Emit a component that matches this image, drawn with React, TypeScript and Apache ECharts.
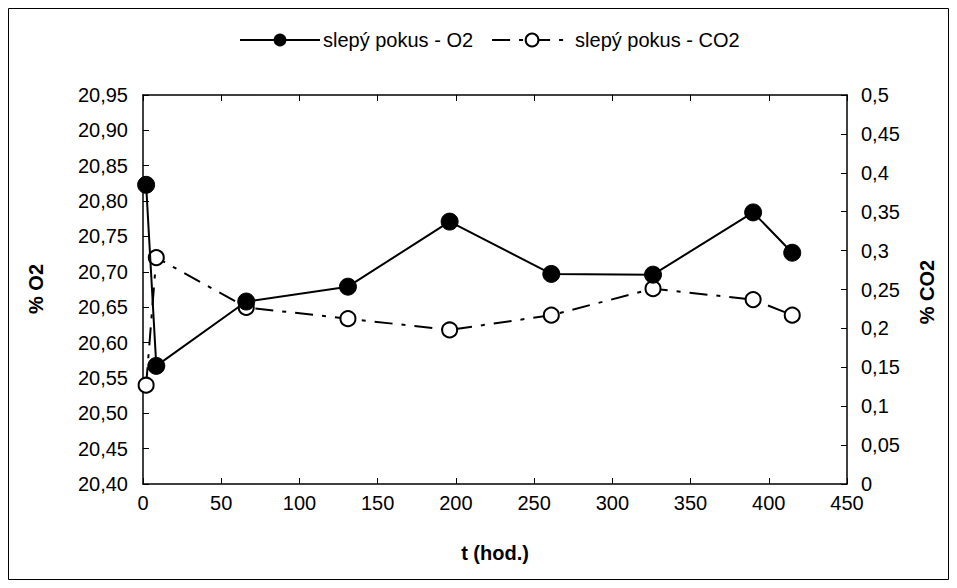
import React, { useEffect, useRef } from "react";
import * as echarts from "echarts";

const times = [2, 8.5, 66, 131, 196, 261, 326, 390, 415];
const o2Values = [20.823, 20.567, 20.658, 20.679, 20.771, 20.697, 20.696, 20.784, 20.727];
const co2Values = [0.127, 0.291, 0.227, 0.2125, 0.198, 0.217, 0.251, 0.237, 0.217];
const o2Name = "slepý pokus - O2";
const co2Name = "slepý pokus - CO2";
const xTitle = "t (hod.)";
const leftTitle = "% O2";
const rightTitle = "% CO2";

const FONT = "'Liberation Sans', Arial, sans-serif";

export default function App() {
  const ref = useRef<HTMLDivElement>(null);
  useEffect(() => {
    if (!ref.current) return;
    const chart = echarts.init(ref.current, undefined, { renderer: "svg" });
    const axisLabel = { color: "#000", fontSize: 20, fontFamily: FONT };
    const tick = { show: true, inside: true, length: 6, lineStyle: { color: "#000", width: 1 } };
    const line = { show: true, onZero: false, lineStyle: { color: "#000", width: 1.5 } };
    chart.setOption({
      animation: false,
      backgroundColor: "#fff",
      textStyle: { fontFamily: FONT, color: "#000" },
      legend: {
        top: 17,
        left: 226,
        itemWidth: 80,
        itemHeight: 16,
        itemGap: 18,
        textStyle: { fontSize: 20, color: "#000", fontFamily: FONT, padding: [0, 0, 0, -2] },
        data: [o2Name, co2Name],
      },
      grid: { left: 135, top: 87, right: 102, bottom: 96, show: false },
      xAxis: [
        {
          type: "value",
          min: 0,
          max: 450,
          interval: 50,
          position: "bottom",
          axisLine: line,
          axisTick: tick,
          splitLine: { show: false },
          axisLabel: { ...axisLabel, margin: 9 },
        },
        {
          type: "value",
          min: 0,
          max: 450,
          interval: 50,
          position: "top",
          axisLine: line,
          axisTick: tick,
          splitLine: { show: false },
          axisLabel: { show: false },
        },
      ],
      yAxis: [
        {
          type: "value",
          min: 20.4,
          max: 20.95,
          interval: 0.05,
          position: "left",
          axisLine: line,
          axisTick: tick,
          splitLine: { show: false },
          axisLabel: {
            ...axisLabel,
            margin: 15,
            formatter: (v: number) => v.toFixed(2).replace(".", ","),
          },
        },
        {
          type: "value",
          min: 0,
          max: 0.5,
          interval: 0.05,
          position: "right",
          axisLine: line,
          axisTick: tick,
          splitLine: { show: false },
          axisLabel: {
            ...axisLabel,
            margin: 14,
            formatter: (v: number) => String(+v.toFixed(2)).replace(".", ","),
          },
        },
      ],
      graphic: [
        {
          type: "rect",
          shape: { x: 0.5, y: 0.5, width: 940, height: 571 },
          style: { fill: "none", stroke: "#000", lineWidth: 1 },
          silent: true,
        },
        {
          type: "text",
          x: 487,
          y: 545,
          style: { text: xTitle, fontSize: 20, fontWeight: "bold", fontFamily: FONT, fill: "#000", align: "center", verticalAlign: "middle" },
        },
        {
          type: "text",
          x: 28,
          y: 281,
          rotation: Math.PI / 2,
          style: { text: leftTitle, fontSize: 20, fontWeight: "bold", fontFamily: FONT, fill: "#000", align: "center", verticalAlign: "middle" },
        },
        {
          type: "text",
          x: 919,
          y: 284,
          rotation: Math.PI / 2,
          style: { text: rightTitle, fontSize: 20, fontWeight: "bold", fontFamily: FONT, fill: "#000", align: "center", verticalAlign: "middle" },
        },
      ],
      series: [
        {
          name: o2Name,
          type: "line",
          yAxisIndex: 0,
          z: 4,
          data: times.map((t, i) => [t, o2Values[i]]),
          symbol: "circle",
          symbolSize: 17,
          itemStyle: { color: "#000", borderColor: "#000" },
          lineStyle: { color: "#000", width: 2 },
        },
        {
          name: co2Name,
          type: "line",
          yAxisIndex: 1,
          z: 3,
          data: times.map((t, i) => [t, co2Values[i]]),
          symbol: "circle",
          symbolSize: 15,
          itemStyle: { color: "#fff", borderColor: "#000", borderWidth: 2 },
          lineStyle: { color: "#000", width: 2, type: [18, 9, 4, 9] },
        },
      ],
    });
    return () => chart.dispose();
  }, []);
  return <div ref={ref} style={{ width: 941, height: 572 }} />;
}
